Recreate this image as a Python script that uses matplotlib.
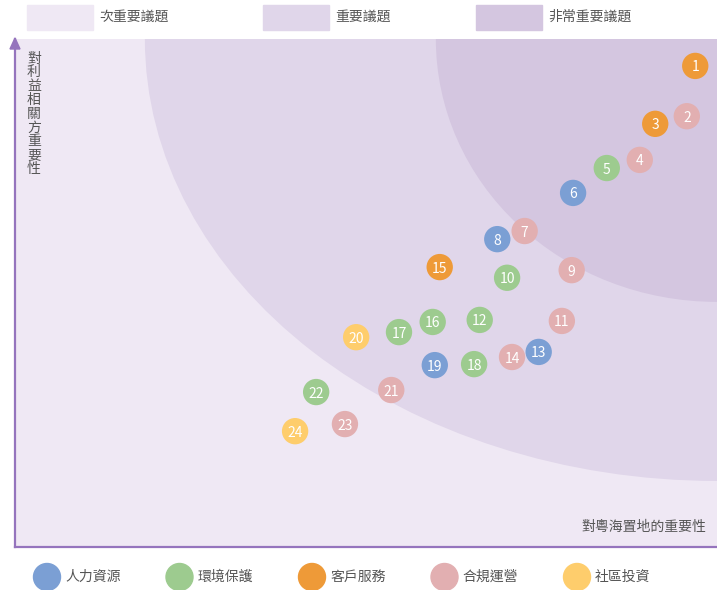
import matplotlib

matplotlib.use("Agg")
import matplotlib.pyplot as plt
from matplotlib.patches import Ellipse, Rectangle

plt.rcParams["font.family"] = ["Noto Sans CJK TC", "DejaVu Sans"]

# ── Data ──────────────────────────────────────────────────────────────
issue_ids = list(range(1, 25))
stakeholder_score = [94.7, 84.8, 83.3, 76.2, 74.6, 69.7, 62.2, 60.6, 54.5, 53.0,
                     44.5, 44.7, 38.4, 37.4, 55.1, 44.3, 42.3, 36.0, 35.8, 41.3,
                     30.9, 30.5, 24.2, 22.8]
company_score = [96.9, 95.7, 91.2, 89.0, 84.3, 79.5, 72.6, 68.7, 79.3, 70.1,
                 77.9, 66.2, 74.6, 70.8, 60.5, 59.5, 54.7, 65.4, 59.8, 48.6,
                 53.6, 42.9, 47.0, 39.9]
issue_category = [2, 3, 2, 3, 1, 0, 3, 0, 3, 1,
                  3, 1, 0, 3, 2, 1, 1, 1, 0, 4,
                  3, 1, 3, 4]

categories = ["人力資源", "環境保護", "客戶服務", "合規運營", "社區投資"]
cat_colors = ["#7b9fd4", "#9dcb8f", "#ee9a38", "#e2afb1", "#fecd6c"]

zone_labels = ["次重要議題", "重要議題", "非常重要議題"]
zone_colors = ["#efe8f4", "#e0d6ea", "#d4c6e0"]

axis_color = "#9574bd"
text_color = "#555555"

# ── Figure ────────────────────────────────────────────────────────────
W, H = 717, 590
fig = plt.figure(figsize=(W / 100, H / 100), dpi=100)
ax = fig.add_axes([15 / W, (H - 547) / H, 702 / W, 508 / H])
ax.set_xlim(0, 100)
ax.set_ylim(0, 100)
ax.set_facecolor(zone_colors[0])

# importance zones: quarter ellipses around the top-right corner
ax.add_patch(Ellipse((100, 100), 163.0, 174.0, color=zone_colors[1], lw=0, zorder=0.5))
ax.add_patch(Ellipse((100, 100), 80.1, 103.5, color=zone_colors[2], lw=0, zorder=0.6))

for i, num in enumerate(issue_ids):
    ax.scatter(company_score[i], stakeholder_score[i], s=360,
               color=cat_colors[issue_category[i]], edgecolors="none", zorder=3,
               clip_on=False)
    ax.text(company_score[i], stakeholder_score[i] - 0.3, str(num), color="white",
            ha="center", va="center", fontsize=10, zorder=4)

ax.set_xticks([])
ax.set_yticks([])
for side in ("top", "right"):
    ax.spines[side].set_visible(False)
for side in ("left", "bottom"):
    ax.spines[side].set_color(axis_color)
    ax.spines[side].set_linewidth(1.6)

# y-axis arrow head
fig.patches.append(plt.Polygon([[10 / W, (H - 49) / H], [20 / W, (H - 49) / H],
                                [15 / W, (H - 38) / H]], closed=True,
                               color=axis_color, transform=fig.transFigure))

ax.text(0.027, 0.975, "\n".join("對利益相關方重要性"), transform=ax.transAxes,
        ha="center", va="top", fontsize=10, color=text_color, linespacing=0.98)
ax.text(0.985, 0.04, "對粵海置地的重要性", transform=ax.transAxes,
        ha="right", va="center", fontsize=10, color=text_color)

# top legend: zones
for x0, lab, col in zip([27, 263, 476], zone_labels, zone_colors):
    fig.patches.append(Rectangle((x0 / W, (H - 30) / H), 66 / W, 25 / H,
                                 color=col, transform=fig.transFigure))
    fig.text((x0 + 72) / W, (H - 17) / H, lab, ha="left", va="center",
             fontsize=10, color=text_color)

# bottom legend: categories
for k, (lab, col) in enumerate(zip(categories, cat_colors)):
    cx = 47 + k * 132.5
    fig.patches.append(Ellipse((cx / W, (H - 577) / H), 27 / W, 27 / H,
                               color=col, transform=fig.transFigure))
    fig.text((cx + 18) / W, (H - 577) / H, lab, ha="left", va="center",
             fontsize=10, color=text_color)

fig.savefig("out.png", dpi=100)
